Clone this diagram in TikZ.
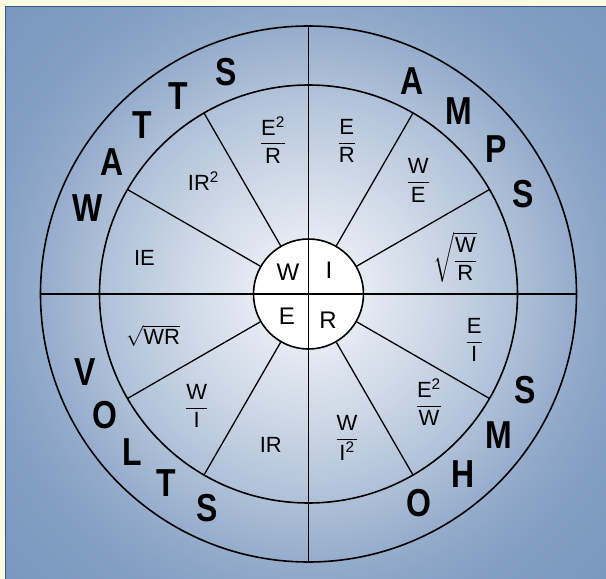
\documentclass[tikz,border=0pt]{standalone}
\usepackage{amsmath}
\usepackage{fontspec}
\setmainfont{Liberation Sans}
\newfontfamily\ringfont[FakeStretch=0.82]{Liberation Sans}

\definecolor{cream}{HTML}{FFFBE0}
\definecolor{panelline}{HTML}{2C5E8E}
\definecolor{glowA}{HTML}{F3F5FA}
\definecolor{glowB}{HTML}{E4E9F2}
\definecolor{glowC}{HTML}{CCD7E6}
\definecolor{glowD}{HTML}{AEC0D8}
\definecolor{glowE}{HTML}{95ACCB}
\definecolor{glowF}{HTML}{829EC3}
\definecolor{glowG}{HTML}{7A97BE}
\pgfdeclareradialshading{panelglow}{\pgfpoint{0bp}{0bp}}{%
  color(0bp)=(glowA); color(4.8bp)=(glowB); color(10.5bp)=(glowC);
  color(16.9bp)=(glowD); color(21.6bp)=(glowE); color(26.6bp)=(glowF);
  color(34bp)=(glowG); color(50bp)=(glowG)}

\newcommand{\frc}[2]{$\dfrac{\text{#1}}{\text{#2}}$}

\tikzset{
  ring/.style={line width=1.6pt},
  spoke/.style={line width=1.3pt},
  formula/.style={font=\fontsize{22}{26}\selectfont, inner sep=0pt},
  quad/.style={font=\fontsize{24}{28}\selectfont, inner sep=0pt},
  ringletter/.style={font=\ringfont\bfseries\fontsize{39}{41}\selectfont, inner sep=0pt},
}

\begin{document}
\begin{tikzpicture}[x=1pt,y=1pt]
  \useasboundingbox (-308.5,-285) rectangle (297.5,294);
  \fill[cream] (-308.5,-285) rectangle (297.5,294);

  % blue panel
  \begin{scope}
    \clip (-303,-290) rectangle (300,287.5);
    \shade[shading=panelglow] (-310,-310) rectangle (310,310);
  \end{scope}
  \draw[panelline, line width=1pt] (-303,-290) -- (-303,287.5) -- (300,287.5);

  % rings
  \draw[ring] (0,0) circle (268);
  \draw[ring] (0,0) circle (209);
  \node[draw, circle, fill=white, line width=1.6pt, minimum size=110pt, inner sep=0pt] (hub) at (0,0) {};
  \foreach \a in {30,60,120,150,210,240,300,330}
    \draw[spoke] (hub.\a) -- (\a:209);
  \draw[ring] (-268,0) -- (268,0);
  \draw[ring] (0,-268) -- (0,268);

  % centre letters
  \node[quad] (w) at (-20.5,22) {W};
  \node[quad] (i) at (20.5,24) {I};
  \node[quad] (e) at (-21.5,-22) {E};
  \node[quad] (r) at (19.5,-26) {R};

  % formulas
  \node[formula] (eer) at (103:158) {\frc{E\textsuperscript{2}}{R}};
  \node[formula] (er) at (76:158) {\frc{E}{R}};
  \node[formula] (we) at (46:158) {\frc{W}{E}};
  \node[formula] (wr) at (14:151) {$\sqrt{\dfrac{\text{W}}{\text{R}}}$};
  \node[formula] (ei) at (-15.5:172) {\frc{E}{I}};
  \node[formula] (eew) at (-42:162) {\frc{E\textsuperscript{2}}{W}};
  \node[formula] (wii) at (-75:149) {\frc{W}{I\textsuperscript{2}}};
  \node[formula] (ir) at (-104:156) {IR};
  \node[formula] (wi) at (-135:158) {\frc{W}{I}};
  \node[formula] (rtwr) at (-165:161) {$\sqrt{\text{WR}}$};
  \node[formula] (ie) at (167.6:168) {IE};
  \node[formula] (iir) at (133:154) {IR\textsuperscript{2}};

  % outer ring words
  \foreach \ang/\ch [count=\i] in {158.8/W,146.2/A,134.7/T,123.4/T,110.4/S}
    \node[ringletter] (watts\i) at (\ang:237) {\ch};
  \foreach \ang/\ch [count=\i] in {64.2/A,50.7/M,37.8/P,25/S}
    \node[ringletter] (amps\i) at (\ang:237) {\ch};
  \foreach \ang/\ch [count=\i] in {-62.1/O,-49.3/H,-36.6/M,-24/S}
    \node[ringletter] (ohms\i) at (\ang:237) {\ch};
  \foreach \ang/\ch [count=\i] in {-160.7/V,-149.3/O,-138.2/L,-126.9/T,-115.2/S}
    \node[ringletter] (volts\i) at (\ang:237) {\ch};
\end{tikzpicture}
\end{document}
